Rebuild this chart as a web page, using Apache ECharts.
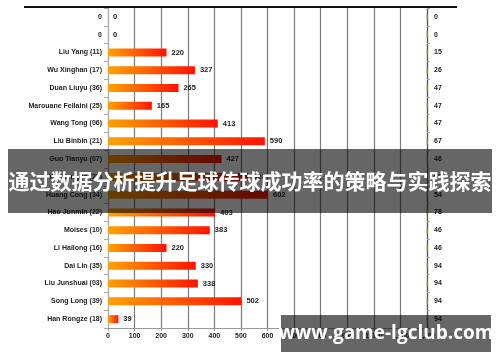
<!DOCTYPE html>
<html><head><meta charset="utf-8">
<script src="https://cdn.jsdelivr.net/npm/echarts@6/dist/echarts.min.js"></script>
<style>html,body{margin:0;padding:0;background:#fff}#c{width:500px;height:362px}</style>
</head><body><div id="c"></div>
<script>
const players = ["0","0","Liu Yang (11)","Wu Xinghan (17)","Duan Liuyu (36)","Marouane Fellaini (25)","Wang Tong (06)","Liu Binbin (21)","Guo Tianyu (07)","Yin Hongbo (27)","Huang Cong (34)","Hao Junmin (22)","Moises (10)","Li Hailong (16)","Dai Lin (35)","Liu Junshuai (03)","Song Long (39)","Han Rongze (18)"];
const passes = [0,0,220,327,265,165,413,590,427,526,602,403,383,220,330,338,502,39];
const rightVals = ["0","0","15","26","47","47","47","67","46","52","54","78","46","46","94","94","94","94"];
const xTicks = [0,100,200,300,400,500,600,700,800,900,1000,1100,1200];
const bannerTitle = "通过数据分析提升足球传球成功率的策略与实践探索";
const watermark = "www.game-lgclub.com";

const chart = echarts.init(document.getElementById('c'));
const FONT = "'Liberation Sans',Arial,sans-serif";
chart.setOption({
  animation:false,
  grid:{left:108,right:73,top:8,height:320},
  xAxis:{type:'value',min:xTicks[0],max:xTicks[xTicks.length-1],interval:100,
    axisLine:{show:true,lineStyle:{color:'#999'}},axisTick:{show:true,length:3,lineStyle:{color:'#999'}},
    splitLine:{show:true,lineStyle:{color:'#7a7a7a',width:1.2}},
    axisLabel:{color:'#222',fontWeight:'bold',fontSize:7,fontFamily:FONT,margin:5}},
  yAxis:[
    {type:'category',data:players,inverse:true,position:'left',
      axisLine:{show:true,lineStyle:{color:'#aaa'}},axisTick:{show:true,length:4,lineStyle:{color:'#aaa'}},
      axisLabel:{color:'#222',fontWeight:'bold',fontSize:7,fontFamily:FONT,margin:6}},
    {type:'category',data:rightVals,inverse:true,position:'right',
      axisLine:{show:true,lineStyle:{color:'#555',width:1.2}},axisTick:{show:true,length:3,lineStyle:{color:'#aaa'}},
      axisLabel:{color:'#222',fontWeight:'bold',fontSize:7,fontFamily:FONT,margin:7}}
  ],
  series:[
    {type:'bar',data:passes,barWidth:8,yAxisIndex:0,
      itemStyle:{color:new echarts.graphic.LinearGradient(0,0,1,0,[{offset:0,color:'#ffa200'},{offset:1,color:'#ff1400'}])},
      label:{show:true,position:'right',distance:5,color:'#222',fontWeight:'bold',fontSize:7.5,fontFamily:FONT}},
    {type:'scatter',yAxisIndex:1,symbol:'rect',symbolSize:[1.2,6],silent:true,
      data:rightVals.map((v,i)=>[xTicks[xTicks.length-1],i]),
      itemStyle:{color:'#8dc63f'},z:5}
  ],
  graphic:[
    {type:'rect',shape:{x:24,y:6,width:433,height:2},style:{fill:'#111'},z:10},
    {type:'rect',shape:{x:8,y:149,width:484,height:64},style:{fill:'rgba(0,0,0,0.6)'},z:100},
    {type:'text',x:250,y:181,style:{text:bannerTitle,fill:'#fff',font:"bold 21px 'Noto Sans CJK SC',sans-serif",align:'center',verticalAlign:'middle'},z:101},
    {type:'rect',shape:{x:281,y:315,width:210,height:37},style:{fill:'rgba(0,0,0,0.6)'},z:100},
    {type:'text',x:386,y:334,style:{text:watermark,fill:'#fff',font:"bold 19px 'Open Sans','DejaVu Sans',sans-serif",align:'center',verticalAlign:'middle'},z:101}
  ]
});
</script></body></html>
